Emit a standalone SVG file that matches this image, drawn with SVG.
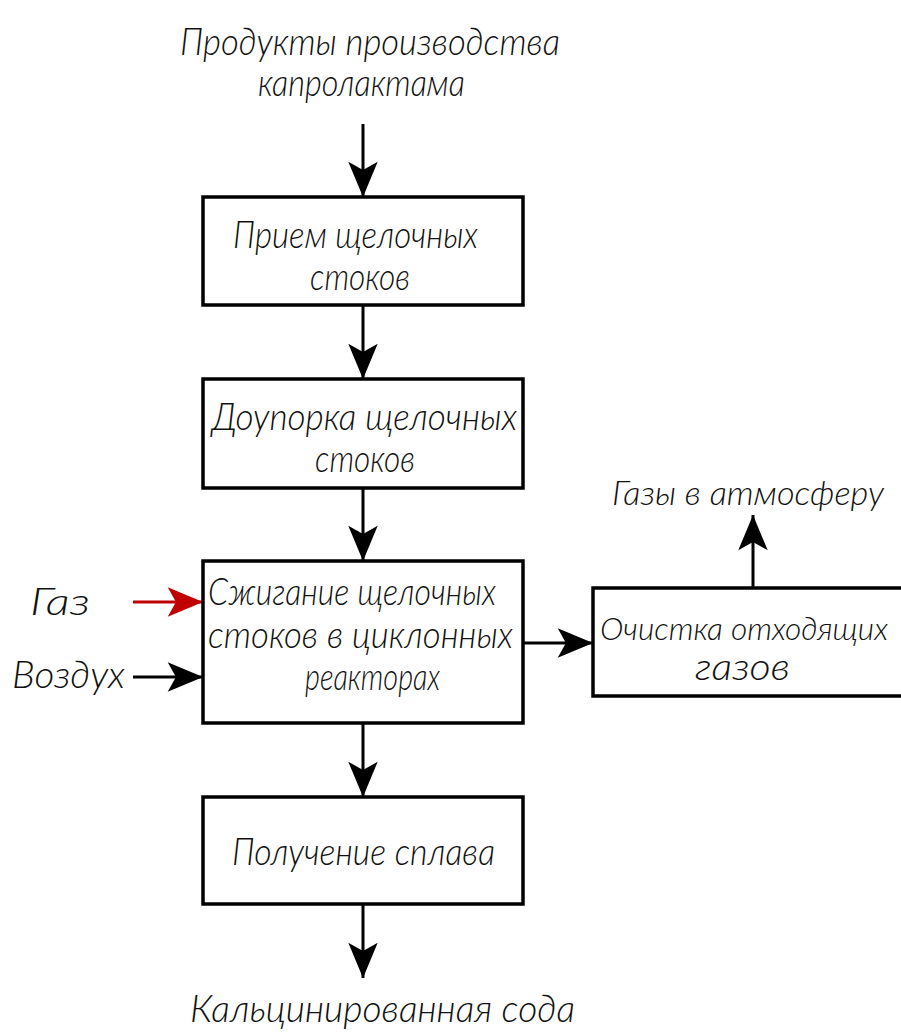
<svg xmlns="http://www.w3.org/2000/svg" width="901" height="1032" viewBox="0 0 901 1032">
<style>
.box{fill:#fff;stroke:#000;stroke-width:3.5}
.t{font-family:Lato,Roboto,"DejaVu Sans",sans-serif;font-style:italic;font-weight:300;font-size:37px;fill:#111}
.s{font-size:34px}
.xs{font-size:31px}
.ln{stroke:#000;stroke-width:3;fill:none}
.red{stroke:#c00000;stroke-width:3;fill:none}
</style>
<defs>
<marker id="ah" markerUnits="userSpaceOnUse" markerWidth="40" markerHeight="40" viewBox="-32 -16 34 32" refX="0" refY="0" orient="auto">
<path d="M0,0 L-30,-12.5 L-23,0 L-30,12.5 Z" fill="#000"/>
</marker>
<marker id="ahr" markerUnits="userSpaceOnUse" markerWidth="40" markerHeight="40" viewBox="-32 -16 34 32" refX="0" refY="0" orient="auto">
<path d="M0,0 L-30,-12.5 L-23,0 L-30,12.5 Z" fill="#c00000"/>
</marker>
</defs>
<rect width="901" height="1032" fill="#fff"/>
<g id="connectors">
<line class="ln" x1="363" y1="124" x2="363" y2="197" marker-end="url(#ah)"/>
<line class="ln" x1="363" y1="305" x2="363" y2="379" marker-end="url(#ah)"/>
<line class="ln" x1="363" y1="488" x2="363" y2="561" marker-end="url(#ah)"/>
<line class="ln" x1="363" y1="723" x2="363" y2="797" marker-end="url(#ah)"/>
<line class="ln" x1="363" y1="904" x2="363" y2="978" marker-end="url(#ah)"/>
<line class="red" x1="133" y1="602" x2="203" y2="602" marker-end="url(#ahr)"/>
<line class="ln" x1="133" y1="677" x2="203" y2="677" marker-end="url(#ah)"/>
<line class="ln" x1="523" y1="643" x2="593" y2="643" marker-end="url(#ah)"/>
<line class="ln" x1="753" y1="588" x2="753" y2="515" marker-end="url(#ah)"/>
</g>
<g id="input-top">
<text class="t" x="180" y="55" textLength="380" lengthAdjust="spacingAndGlyphs">Продукты производства</text>
<text class="t" x="258" y="96" textLength="207" lengthAdjust="spacingAndGlyphs">капролактама</text>
</g>
<g id="node-priem">
<rect class="box" x="203" y="197" width="320" height="108"/>
<text class="t" x="233" y="248" textLength="245" lengthAdjust="spacingAndGlyphs">Прием щелочных</text>
<text class="t" x="310" y="290" textLength="100" lengthAdjust="spacingAndGlyphs">стоков</text>
</g>
<g id="node-doupor">
<rect class="box" x="203" y="379" width="320" height="109"/>
<text class="t" x="212" y="430" textLength="305" lengthAdjust="spacingAndGlyphs">Доупорка щелочных</text>
<text class="t" x="315" y="472" textLength="100" lengthAdjust="spacingAndGlyphs">стоков</text>
</g>
<g id="node-szhig">
<rect class="box" x="203" y="561" width="320" height="162"/>
<text class="t" x="208" y="605" textLength="288" lengthAdjust="spacingAndGlyphs">Сжигание щелочных</text>
<text class="t" x="208" y="648" textLength="305" lengthAdjust="spacingAndGlyphs">стоков в циклонных</text>
<text class="t" x="305" y="690" textLength="135" lengthAdjust="spacingAndGlyphs">реакторах</text>
</g>
<g id="input-gas">
<text class="t" x="30" y="615" textLength="60" lengthAdjust="spacingAndGlyphs">Газ</text>
</g>
<g id="input-air">
<text class="t" x="12" y="688" textLength="113" lengthAdjust="spacingAndGlyphs">Воздух</text>
</g>
<g id="node-ochistka">
<rect class="box" x="593" y="588" width="310" height="108"/>
<text class="t xs" x="600" y="640" textLength="288" lengthAdjust="spacingAndGlyphs">Очистка отходящих</text>
<text class="t" x="695" y="680" textLength="95" lengthAdjust="spacingAndGlyphs">газов</text>
</g>
<g id="output-gases">
<text class="t s" x="612" y="505" textLength="272" lengthAdjust="spacingAndGlyphs">Газы в атмосферу</text>
</g>
<g id="node-splav">
<rect class="box" x="203" y="797" width="320" height="107"/>
<text class="t" x="232" y="865" textLength="263" lengthAdjust="spacingAndGlyphs">Получение сплава</text>
</g>
<g id="output-soda">
<text class="t" x="190" y="1022" textLength="385" lengthAdjust="spacingAndGlyphs">Кальцинированная сода</text>
</g>
</svg>
